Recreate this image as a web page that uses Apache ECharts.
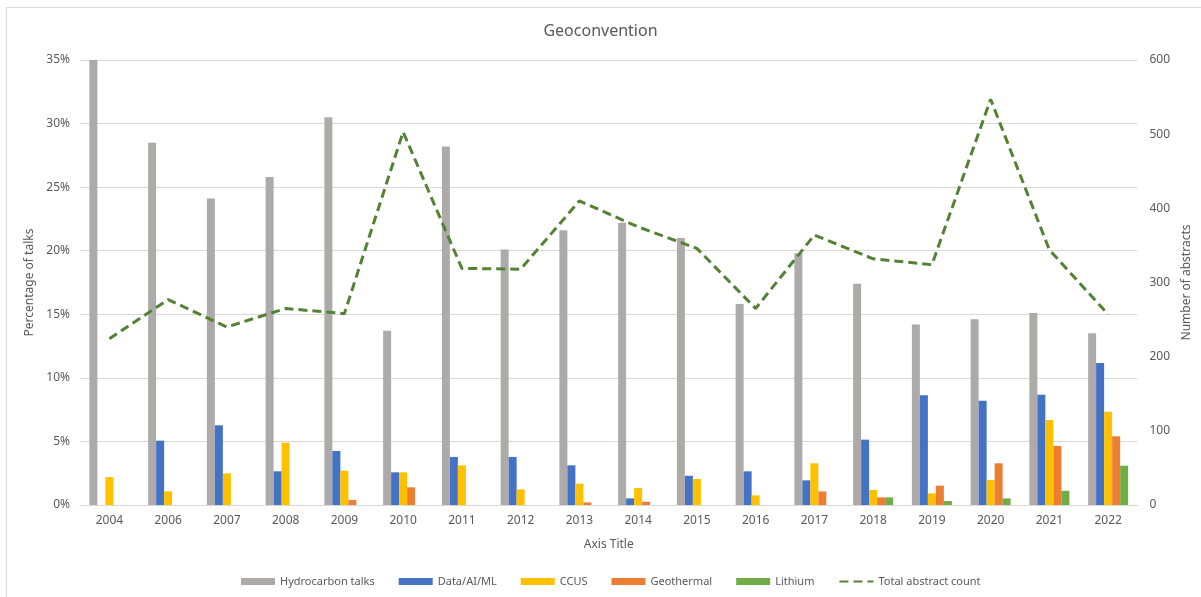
<!DOCTYPE html>
<html lang="en">
<head>
    <meta charset="UTF-8">
    <title>Geoconvention</title>
    <script src="https://cdn.jsdelivr.net/npm/echarts@6/dist/echarts.min.js"></script>
    <style>
        html, body {
            margin: 0;
            padding: 0;
            background: #fff;
            overflow: hidden;
        }
        #frame {
            position: absolute;
            left: 6px;
            top: 7px;
            width: 1300px;
            height: 700px;
            border: 1px solid #d9d9d9;
        }
        #chart {
            position: absolute;
            left: 0;
            top: 0;
            width: 1201px;
            height: 597px;
        }
    </style>
</head>
<body>
<div id="frame"></div>
<div id="chart"></div>

<script>
    // years on the x axis (2005 is missing in the source)
    const years = ['2004', '2006', '2007', '2008', '2009', '2010', '2011', '2012', '2013',
        '2014', '2015', '2016', '2017', '2018', '2019', '2020', '2021', '2022'];

    // percentage of talks per topic
    const hydrocarbon = [35.0, 28.5, 24.1, 25.8, 30.5, 13.7, 28.2, 20.1, 21.6, 22.2, 21.0, 15.8, 19.8, 17.4, 14.2, 14.6, 15.1, 13.5];
    const dataAiMl = [0, 5.06, 6.27, 2.65, 4.25, 2.57, 3.78, 3.78, 3.12, 0.52, 2.3, 2.65, 1.94, 5.14, 8.63, 8.2, 8.68, 11.17];
    const ccus = [2.2, 1.07, 2.49, 4.9, 2.7, 2.57, 3.12, 1.23, 1.68, 1.34, 2.05, 0.76, 3.28, 1.18, 0.92, 1.97, 6.69, 7.34];
    const geothermal = [0, 0, 0, 0, 0.39, 1.39, 0, 0, 0.2, 0.26, 0, 0, 1.07, 0.6, 1.52, 3.28, 4.64, 5.4];
    const lithium = [0, 0, 0, 0, 0, 0, 0, 0, 0, 0, 0, 0, 0, 0.6, 0.31, 0.52, 1.12, 3.09];

    // total abstracts (right axis)
    const totalAbstracts = [224, 277, 240, 265, 258, 503, 319, 318, 410, 375, 346, 265, 364, 332, 324, 547, 344, 257];

    const textColor = '#595959';
    const gridColor = '#d9d9d9';
    const font = 'Noto Sans, sans-serif';

    function barSeries(name, data, color) {
        return {
            name: name,
            type: 'bar',
            data: data,
            barWidth: 8,
            barGap: '0%',
            itemStyle: { color: color },
            yAxisIndex: 0
        };
    }

    const chart = echarts.init(document.getElementById('chart'));
    const option = {
        animation: false,
        textStyle: { fontFamily: font },
        title: {
            text: 'Geoconvention',
            left: 'center',
            top: 18,
            textStyle: { color: textColor, fontSize: 16, fontWeight: 'normal', fontFamily: font }
        },
        legend: {
            left: 236,
            top: 571,
            itemWidth: 34,
            itemHeight: 7,
            itemGap: 24,
            textStyle: { color: textColor, fontSize: 11, fontFamily: font },
            data: [
                { name: 'Hydrocarbon talks', icon: 'rect' },
                { name: 'Data/AI/ML', icon: 'rect' },
                { name: 'CCUS', icon: 'rect' },
                { name: 'Geothermal', icon: 'rect' },
                { name: 'Lithium', icon: 'rect' },
                { name: 'Total abstract count', itemStyle: { opacity: 0 } }
            ]
        },
        grid: { left: 80, right: 63, top: 60, bottom: 92 },
        xAxis: {
            type: 'category',
            data: years,
            name: 'Axis Title',
            nameLocation: 'middle',
            nameGap: 34,
            nameTextStyle: { color: textColor, fontSize: 12 },
            axisLine: { lineStyle: { color: gridColor } },
            axisTick: { show: false },
            axisLabel: { color: textColor, fontSize: 12, margin: 10 }
        },
        yAxis: [{
            type: 'value',
            min: 0,
            max: 35,
            interval: 5,
            name: 'Percentage of talks',
            nameLocation: 'middle',
            nameGap: 40,
            nameTextStyle: { color: textColor, fontSize: 12 },
            axisLabel: { color: textColor, fontSize: 12, formatter: '{value}%', margin: 10 },
            axisLine: { show: false },
            axisTick: { show: false },
            splitLine: { lineStyle: { color: gridColor } }
        }, {
            type: 'value',
            min: 0,
            max: 600,
            interval: 100,
            name: 'Number of abstracts',
            nameLocation: 'middle',
            nameGap: 42,
            nameTextStyle: { color: textColor, fontSize: 12 },
            axisLabel: { color: textColor, fontSize: 12, margin: 12 },
            axisLine: { show: false },
            axisTick: { show: false },
            splitLine: { show: false }
        }],
        series: [
            barSeries('Hydrocarbon talks', hydrocarbon, '#AEAAAA'),
            barSeries('Data/AI/ML', dataAiMl, '#4472C4'),
            barSeries('CCUS', ccus, '#FFC000'),
            barSeries('Geothermal', geothermal, '#ED7D31'),
            barSeries('Lithium', lithium, '#70AD47'),
            {
                name: 'Total abstract count',
                type: 'line',
                yAxisIndex: 1,
                data: totalAbstracts,
                symbol: 'none',
                itemStyle: { color: '#548235' },
                lineStyle: { color: '#548235', width: 3, type: [9, 5] }
            }
        ]
    };
    chart.setOption(option);
</script>
</body>
</html>
